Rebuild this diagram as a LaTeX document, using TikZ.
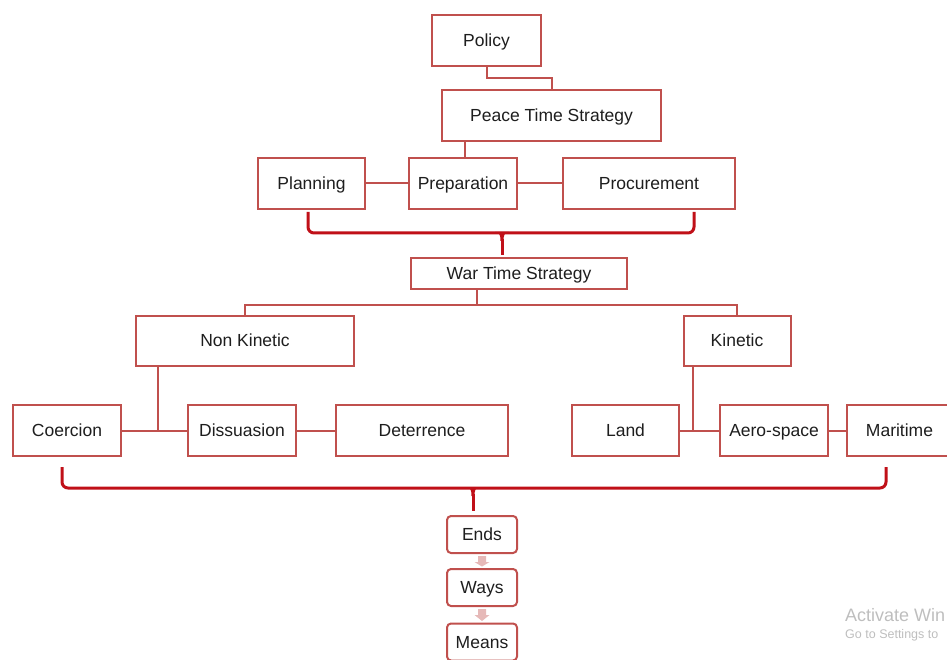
\documentclass[tikz,border=0pt]{standalone}
\usepackage{fontspec}
\setmainfont{Liberation Sans}
\usetikzlibrary{calc}
\definecolor{boxred}{RGB}{192,80,77}
\definecolor{bracered}{RGB}{192,16,24}
\definecolor{txt}{RGB}{30,30,30}
\definecolor{pinkarr}{RGB}{230,185,184}
\definecolor{wmgray}{RGB}{190,190,190}
\begin{document}
\begin{tikzpicture}[x=1pt,y=-1pt,
  box/.style={draw=boxred,line width=2pt,fill=white,inner sep=0pt,text=txt,font=\fontsize{17.5}{20}\selectfont,text height=12.5pt,text depth=0.5pt},
  rbox/.style={box,rounded corners=4pt,minimum width=70pt,minimum height=37pt},
  conn/.style={draw=boxred,line width=2pt},
  bracepath/.style={draw=bracered,line width=3pt,rounded corners=6pt},
  wm/.style={anchor=west,inner sep=0pt,text=wmgray}]
\useasboundingbox (0,0) rectangle (947,660);
% top part
\node[box,minimum width=109pt,minimum height=51pt] (Policy) at (486.5,40.5) {Policy};
\node[box,minimum width=219pt,minimum height=51pt] (Peace) at (551.5,115.5) {Peace Time Strategy};
\node[box,minimum width=107pt,minimum height=51pt] (Planning) at (311.5,183.5) {Planning};
\node[box,minimum width=108pt,minimum height=51pt] (Preparation) at (463,183.5) {Preparation};
\node[box,minimum width=172pt,minimum height=51pt] (Procurement) at (649,183.5) {Procurement};
\node[box,minimum width=216pt,minimum height=31pt] (War) at (519,273.5) {War Time Strategy};
% middle
\node[box,minimum width=218pt,minimum height=50pt] (NonKinetic) at (245,340.5) {Non Kinetic};
\node[box,minimum width=107pt,minimum height=50pt] (Kinetic) at (737,340.5) {Kinetic};
\node[box,minimum width=108pt,minimum height=51pt] (Coercion) at (67,430.5) {Coercion};
\node[box,minimum width=108pt,minimum height=51pt] (Dissuasion) at (242,430.5) {Dissuasion};
\node[box,minimum width=172pt,minimum height=51pt] (Deterrence) at (422,430.5) {Deterrence};
\node[box,minimum width=107pt,minimum height=51pt] (Land) at (625.5,430.5) {Land};
\node[box,minimum width=108pt,minimum height=51pt] (Aero) at (774,430.5) {Aero-space};
\node[box,minimum width=105pt,minimum height=51pt] (Maritime) at (899.5,430.5) {Maritime};
% bottom
\node[rbox] (Ends) at (482,534.5) {Ends};
\node[rbox] (Ways) at (482,587.5) {Ways};
\node[rbox] (Means) at (482,642) {Means};
% connectors
\draw[conn] (Policy.south) |- ($(Policy.south)!0.5!(Peace.north)$) -| (Peace.north);
\coordinate (px) at ($(Preparation.north)+(2,0)$);
\draw[conn] (px |- Peace.south) -- (px);
\draw[conn] (Planning.east) -- (Preparation.west);
\draw[conn] (Preparation.east) -- (Procurement.west);
\coordinate (warout) at ($(War.south)+(-42,0)$);
\draw[conn] (warout) -- ($(warout)+(0,15)$) coordinate (wsplit);
\draw[conn] (NonKinetic.north) |- (wsplit) -| (Kinetic.north);
\coordinate (nkj) at ($(NonKinetic.south)+(-87,0)$);
\draw[conn] (Coercion.east) -- (Dissuasion.west);
\draw[conn] (nkj) -- (nkj |- Coercion.east);
\draw[conn] (Dissuasion.east) -- (Deterrence.west);
\coordinate (kj) at ($(Kinetic.south)+(-44,0)$);
\draw[conn] (Land.east) -- (Aero.west);
\draw[conn] (kj) -- (kj |- Land.east);
\draw[conn] (Aero.east) -- (Maritime.west);
% top brace
\draw[bracepath] ($(Planning.south)+(-3.5,2)$) -- ++(0,21) -| ($(Procurement.south)+(45,2)$);
\coordinate (tb) at ($(War.north)+(-17,0)$);
\fill[bracered] ($(tb)+(-7,-25)$) .. controls ($(tb)+(-2,-24.5)$) and ($(tb)+(-1.5,-21)$) .. ($(tb)+(-1.5,-16)$)
  -- ($(tb)+(1.5,-16)$) .. controls ($(tb)+(1.5,-21)$) and ($(tb)+(2,-24.5)$) .. ($(tb)+(7,-25)$) -- cycle;
\draw[draw=bracered,line width=3pt] ($(tb)+(0,-18)$) -- ($(tb)+(0,-2)$);
% bottom brace
\draw[bracepath] ($(Coercion.south)+(-5,10)$) -- ++(0,21) -| ($(Maritime.south)+(-13.5,10)$);
\coordinate (bb) at ($(Ends.north)+(-9,0)$);
\fill[bracered] ($(bb)+(-7,-28)$) .. controls ($(bb)+(-2,-27.5)$) and ($(bb)+(-1.5,-24)$) .. ($(bb)+(-1.5,-19)$)
  -- ($(bb)+(1.5,-19)$) .. controls ($(bb)+(1.5,-24)$) and ($(bb)+(2,-27.5)$) .. ($(bb)+(7,-28)$) -- cycle;
\draw[draw=bracered,line width=3pt] ($(bb)+(0,-21)$) -- ($(bb)+(0,-4)$);
% pink arrows
\foreach \a/\b in {Ends/Ways,Ways/Means}{
  \fill[pinkarr] ($(\a.south)+(-4,2)$) -- ($(\a.south)+(4,2)$) -- ($(\a.south)+(4,8)$) -- ($(\a.south)+(7.5,8)$)
    -- ($(\b.north)+(0,-1.5)$) -- ($(\a.south)+(-7.5,8)$) -- ($(\a.south)+(-4,8)$) -- cycle;
}
% watermark
\node[wm,font=\fontsize{18}{20}\selectfont] (wm1) at (845,615) {Activate Win};
\node[wm,font=\fontsize{12.5}{14}\selectfont] (wm2) at (845,635) {Go to Settings to};
\end{tikzpicture}
\end{document}
